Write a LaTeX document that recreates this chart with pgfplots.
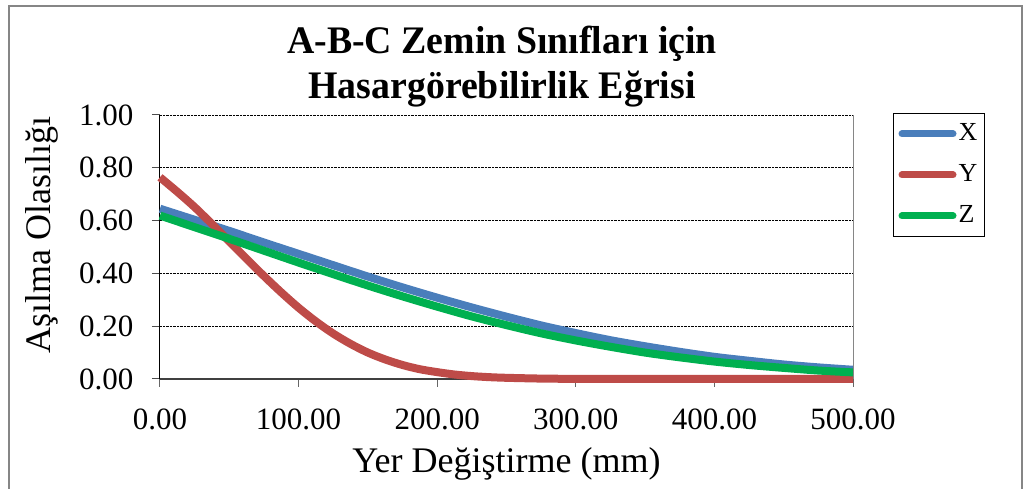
\documentclass[border=0pt]{standalone}
\usepackage{fontspec}
\setmainfont{Liberation Serif}
\usepackage{pgfplots}
\pgfplotsset{compat=1.18}
\definecolor{cX}{HTML}{4A7EBB}
\definecolor{cY}{HTML}{BE4B48}
\definecolor{cZ}{HTML}{00B050}
\definecolor{frame}{HTML}{868686}

\begin{document}
\begin{tikzpicture}
\useasboundingbox (-160pt,-110pt) rectangle (868pt,379pt);
\draw[frame, line width=2pt] (-151pt,-115pt) rectangle (862pt,373pt);
\node[font=\bfseries\fontsize{39}{44}\selectfont, align=center] at (342pt,312pt)
  {\scalebox{0.97}[1]{A-B-C Zemin Sınıfları için}\\[1pt]\scalebox{0.97}[1]{Hasargörebilirlik Eğrisi}};
\begin{axis}[
  at={(0pt,0pt)}, anchor=south west,
  scale only axis, width=693pt, height=264pt,
  xmin=0, xmax=500, ymin=0, ymax=1,
  clip=false,
  axis x line*=bottom, axis y line*=left,
  x axis line style={draw=black!75, line width=1.5pt},
  y axis line style={draw=black, line width=1pt},
  xtick={0,100,200,300,400,500},
  ytick={0,0.2,0.4,0.6,0.8,1},
  tick align=outside, major tick length=8pt,
  xtick style={draw=black!60, line width=1pt},
  ytick style={draw=black!70, line width=1pt},
  ymajorgrids, grid style={black, densely dotted, line width=0.8pt},
  /pgf/number format/.cd, fixed, fixed zerofill, precision=2, assume math mode=true,
  /pgfplots/.cd,
  tick label style={font=\fontsize{31}{36}\selectfont},
  xticklabel style={yshift=-18pt},
  yticklabel style={xshift=-15pt},
  label style={font=\fontsize{36}{40}\selectfont},
  xlabel={Yer Değiştirme (mm)},
  ylabel={Aşılma Olasılığı},
  xlabel style={at={(rel axis cs:0.5,0)}, anchor=north, yshift=-65pt},
  ylabel style={at={(axis description cs:-0.141,0.545)}, anchor=south},
  legend style={at={(rel axis cs:1,1)}, anchor=north west, xshift=40pt, yshift=2pt,
    draw=black, line width=1pt, inner xsep=5pt, inner ysep=7pt,
    font=\fontsize{26}{30}\selectfont, row sep=14pt,
    nodes={text height=19pt, text depth=5pt, inner xsep=2pt, inner ysep=1.5pt, anchor=west}},
  legend cell align=left,
  legend image code/.code={\draw[#1, line cap=round, line width=7pt] (3.5pt,0pt) -- (54.5pt,0pt);},
]
\addplot[cX, line width=8pt, smooth] coordinates {
(0,0.645) (25,0.603) (50,0.561) (75,0.517) (100,0.474) (125,0.431) (150,0.388)
(175,0.347) (200,0.308) (225,0.271) (250,0.236) (275,0.203) (300,0.174)
(325,0.147) (350,0.124) (375,0.103) (400,0.084) (425,0.069) (450,0.055)
(475,0.044) (500,0.035)};
\addlegendentry{X}
\addplot[cY, line width=8pt, smooth] coordinates {
(0,0.764) (12.5,0.709) (25,0.651) (37.5,0.587) (50,0.521) (62.5,0.455) (75,0.390)
(87.5,0.328) (100,0.270) (112.5,0.218) (125,0.172) (137.5,0.133) (150,0.100)
(162.5,0.074) (175,0.053) (187.5,0.037) (200,0.026) (212.5,0.017) (225,0.011)
(237.5,0.007) (250,0.0045) (275,0.0016) (300,0.0005)
(325,0.0001) (350,0) (375,0) (400,0) (425,0) (450,0) (475,0) (500,0)};
\addlegendentry{Y}
\addplot[cZ, line width=8pt, smooth] coordinates {
(0,0.619) (25,0.575) (50,0.531) (75,0.486) (100,0.441) (125,0.397) (150,0.354)
(175,0.313) (200,0.274) (225,0.237) (250,0.204) (275,0.173) (300,0.146)
(325,0.122) (350,0.100) (375,0.082) (400,0.066) (425,0.053) (450,0.042)
(475,0.032) (500,0.025)};
\addlegendentry{Z}
\draw[frame, line width=1pt] (rel axis cs:1,0) -- (rel axis cs:1,1);
\end{axis}
\end{tikzpicture}
\end{document}
